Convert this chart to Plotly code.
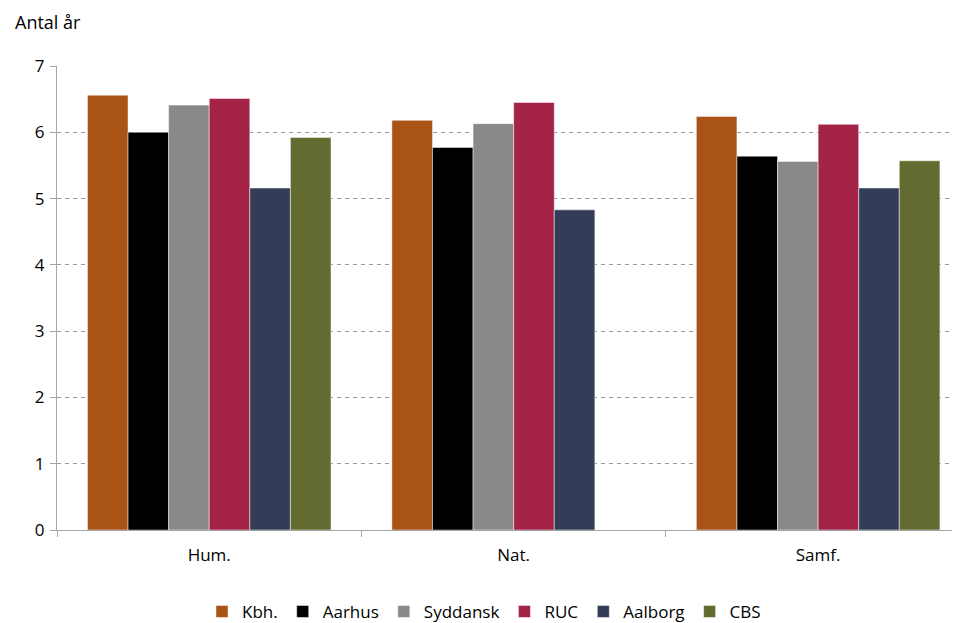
import plotly.graph_objects as go

categories = ["Hum.", "Nat.", "Samf."]
series_names = ["Kbh.", "Aarhus", "Syddansk", "RUC", "Aalborg", "CBS"]
kbh = [6.56, 6.18, 6.24]
aarhus = [6.00, 5.77, 5.64]
syddansk = [6.41, 6.13, 5.56]
ruc = [6.51, 6.45, 6.12]
aalborg = [5.16, 4.83, 5.16]
cbs = [5.92, None, 5.57]
colors = ["#A95316", "#000000", "#898989", "#A32246", "#333D57", "#636B30"]
y_ticks = [0, 1, 2, 3, 4, 5, 6, 7]

values = [kbh, aarhus, syddansk, ruc, aalborg, cbs]

fig = go.Figure()
for name, vals, col in zip(series_names, values, colors):
    fig.add_trace(go.Bar(
        x=categories, y=vals, name=name,
        marker=dict(color=col, line=dict(color="rgba(255,255,255,0.6)", width=0.8)),
    ))

font_family = "Open Sans, Lato, sans-serif"
fig.update_layout(
    width=952, height=615,
    barmode="group", bargap=0.2, bargroupgap=0,
    plot_bgcolor="white", paper_bgcolor="white",
    margin=dict(l=49, r=0, t=58, b=93, autoexpand=False),
    font=dict(family=font_family, size=17, color="#000000"),
    showlegend=True,
    legend=dict(orientation="h", x=0.5, xanchor="center", xref="container",
                y=0.018, yanchor="middle", yref="container", itemwidth=30,
                font=dict(size=17), traceorder="normal"),
    xaxis=dict(
        automargin=False, range=[-0.5, 2.466],
        showline=True, linecolor="#A6A6A6", linewidth=1,
        ticks="outside", tickson="boundaries", ticklen=6, tickcolor="#A6A6A6",
        tickfont=dict(size=17), showgrid=False, ticklabelstandoff=10,
    ),
    yaxis=dict(
        automargin=False,
        range=[0, 7], tickvals=y_ticks,
        showline=True, linecolor="#A6A6A6", linewidth=1,
        ticks="outside", ticklen=6, tickcolor="#A6A6A6",
        showgrid=True, gridcolor="#9A9A9A", griddash="4px,4px", gridwidth=1,
        zeroline=False, tickfont=dict(size=17), ticklabelstandoff=2,
    ),
    annotations=[dict(text="Antal år", xref="paper", yref="paper", x=-0.0487, y=1.095,
                      xanchor="left", yanchor="middle", showarrow=False,
                      font=dict(size=18))],
)

fig.write_html("out.html")
